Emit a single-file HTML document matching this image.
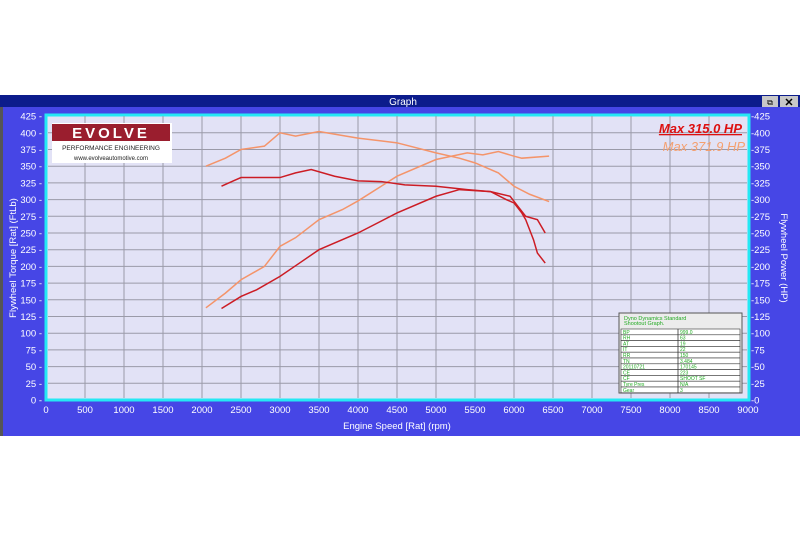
<!DOCTYPE html>
<html><head><meta charset="utf-8"><style>
body{margin:0;width:800px;height:533px;background:#fff;overflow:hidden;font-family:"Liberation Sans",sans-serif}
</style></head><body>
<svg width="800" height="533" xmlns="http://www.w3.org/2000/svg" font-family="Liberation Sans, sans-serif">
<rect x="0" y="95" width="800" height="341" fill="#4646e6"/>
<rect x="0" y="95" width="3" height="341" fill="#555"/>
<rect x="0" y="95" width="800" height="12" fill="#0c1c8c"/>
<text x="403" y="105" fill="#fff" font-size="10" text-anchor="middle">Graph</text>
<rect x="762" y="96" width="16" height="11" fill="#c8c8c8"/>
<rect x="780" y="96" width="18" height="11" fill="#c8c8c8"/>
<text x="789" y="106" font-size="11" text-anchor="middle" font-weight="bold">✕</text>
<text x="770" y="105" font-size="8" text-anchor="middle">⧉</text>
<rect x="46" y="115" width="703" height="285" fill="#e2e2f6" stroke="#25e8f4" stroke-width="3"/>
<g id="grid" stroke="#9a9aa8" stroke-width="1"></g>
<g id="ticks" font-size="9.5" fill="#fff"></g>
<g id="rt" font-size="9.5" fill="#fff"></g>
<g fill="none" stroke-width="1.5">
<polyline id="ot" stroke="#f4946a"/>
<polyline id="op" stroke="#f4946a"/>
<polyline id="rtq" stroke="#cc1c24"/>
<polyline id="rp" stroke="#cc1c24"/>
</g>
<rect x="52" y="123" width="120" height="40" fill="#fff"/>
<rect x="52" y="124" width="118" height="17" fill="#9a1e2e"/>
<text x="111" y="138" font-size="15" fill="#fff" text-anchor="middle" letter-spacing="3" font-weight="bold">EVOLVE</text>
<text x="111" y="150" font-size="6.5" fill="#222" text-anchor="middle">PERFORMANCE ENGINEERING</text>
<text x="111" y="160" font-size="6" fill="#222" text-anchor="middle">www.evolveautomotive.com</text>
<text x="742" y="133" font-size="13" fill="#dd1010" text-anchor="end" font-style="italic" font-weight="bold" text-decoration="underline">Max 315.0 HP</text>
<text x="745" y="151" font-size="13" fill="#f4a070" text-anchor="end" font-style="italic">Max 371.9 HP</text>
<rect x="619" y="313" width="123" height="80" fill="#ececec" stroke="#555"/>
<text x="624" y="320" font-size="5.5" fill="#2a2">Dyno Dynamics Standard</text>
<text x="624" y="325" font-size="5.5" fill="#2a2">Shootout Graph.</text>
<g id="tbl" font-size="5" fill="#2a2"></g>
<text x="397" y="429" font-size="9.5" fill="#fff" text-anchor="middle">Engine Speed [Rat] (rpm)</text>
<text transform="translate(16,258) rotate(-90)" font-size="9.5" fill="#fff" text-anchor="middle">Flywheel Torque [Rat] (FtLb)</text>
<text transform="translate(781,258) rotate(90)" font-size="9.5" fill="#fff" text-anchor="middle">Flywheel Power (HP)</text>
</svg>
<script>
const NS="http://www.w3.org/2000/svg";
const X=r=>46+r*0.078, Y=v=>400-v*0.668;
function el(p,t,a,txt){const e=document.createElementNS(NS,t);for(const k in a)e.setAttribute(k,a[k]);if(txt!=null)e.textContent=txt;document.getElementById(p).appendChild(e);}
for(let r=500;r<9000;r+=500)el("grid","line",{x1:X(r),x2:X(r),y1:116,y2:398});
for(let v=25;v<425;v+=25)el("grid","line",{x1:48,x2:747,y1:Y(v),y2:Y(v)});
for(let r=0;r<=9000;r+=500)el("ticks","text",{x:X(r),y:413,"text-anchor":"middle"},r);
for(let v=0;v<=425;v+=25){el("ticks","text",{x:42,y:Y(v)+3.5,"text-anchor":"end"},v+" -");el("rt","text",{x:751,y:Y(v)+3.5},"-"+v);}
const pts=a=>a.map(p=>X(p[0])+","+Y(p[1])).join(" ");
document.getElementById("ot").setAttribute("points",pts([[2050,350],[2300,362],[2500,375],[2800,380],[3000,400],[3200,395],[3500,402],[3800,396],[4000,392],[4500,385],[5000,370],[5300,362],[5500,355],[5800,340],[6000,320],[6200,308],[6450,297]]));
document.getElementById("op").setAttribute("points",pts([[2050,138],[2300,160],[2500,180],[2800,200],[3000,230],[3200,243],[3500,270],[3800,285],[4000,298],[4500,335],[5000,360],[5400,370],[5600,367],[5800,372],[6000,365],[6100,362],[6450,365]]));
document.getElementById("rtq").setAttribute("points",pts([[2250,320],[2400,328],[2500,333],[3000,333],[3200,340],[3400,345],[3700,335],[4000,328],[4300,327],[4600,322],[5000,320],[5400,315],[5700,312],[5950,305],[6050,290],[6150,275],[6300,270],[6400,250]]));
document.getElementById("rp").setAttribute("points",pts([[2250,137],[2500,155],[2700,165],[3000,185],[3250,205],[3500,225],[4000,250],[4500,280],[5000,305],[5300,315],[5700,312],[5900,300],[6000,295],[6100,280],[6150,270],[6250,240],[6300,220],[6400,205]]));
const rows=[["BP","999.0"],["RH","63"],["AT","19"],["IT","22"],["RR","150"],["TN","3.484"],["20110721","170145"],["CE","223"],["CF","SHOOT SF"],["Tyre Pres","N/A"],["Gear","3"]];
rows.forEach((r,i)=>{const y=329+i*5.8;el("tbl","rect",{x:621,y:y,width:119,height:5.8,fill:"#fff",stroke:"#333","stroke-width":0.6});el("tbl","line",{x1:678,x2:678,y1:y,y2:y+5.8,stroke:"#333","stroke-width":0.8});el("tbl","text",{x:623,y:y+4.8},r[0]);el("tbl","text",{x:680,y:y+4.8},r[1]);});
</script>
</body></html>
